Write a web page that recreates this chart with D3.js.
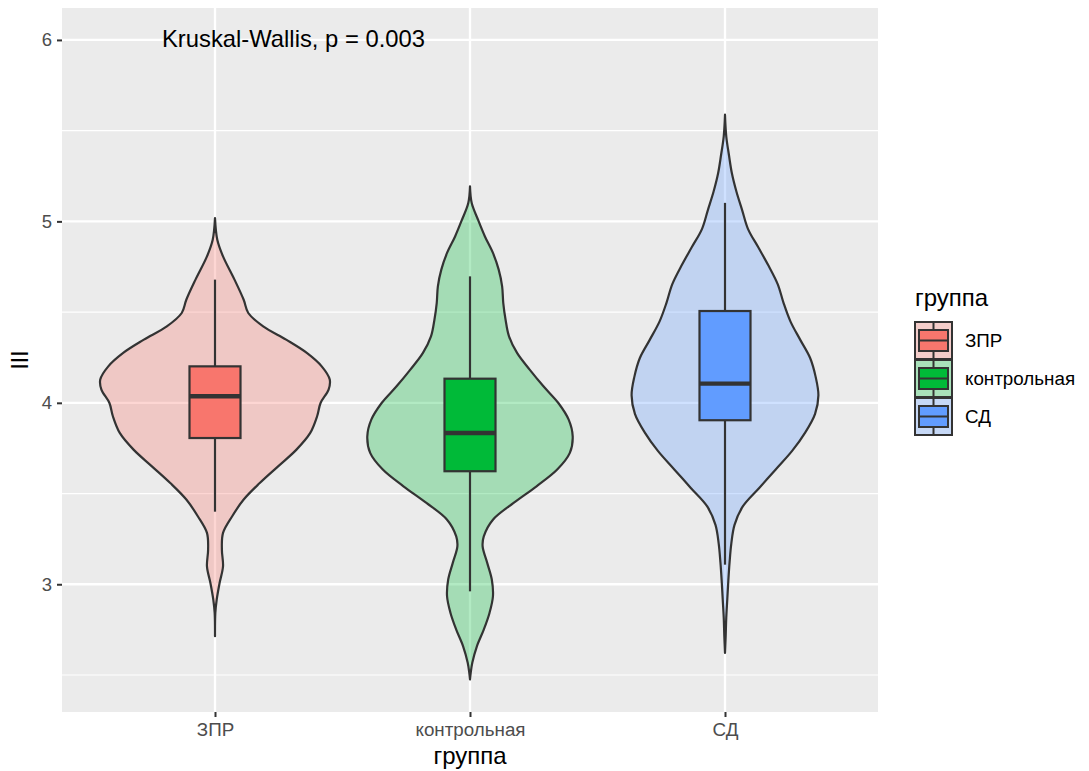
<!DOCTYPE html>
<html>
<head>
<meta charset="utf-8">
<script src="https://cdn.jsdelivr.net/npm/d3@7"></script>
<style>
  body { margin: 0; background: #fff; }
  svg { display: block; font-family: "Liberation Sans", Arial, sans-serif; }
</style>
</head>
<body>
<svg id="chart" width="1089" height="771"></svg>
<script>
// groups and colours
const groups = ["ЗПР", "контрольная", "СД"];
const groupColors = ["#F8766D", "#00BA38", "#619CFF"];

// violin outlines: value, relative density
const zprY = [5.018, 4.899, 4.807, 4.679, 4.568, 4.495, 4.421, 4.348, 4.275, 4.201, 4.128, 4.073, 3.999, 3.926, 3.834, 3.742, 3.650, 3.558, 3.467, 3.375, 3.283, 3.191, 3.099, 3.007, 2.916, 2.842, 2.714];
const zprDensity = [0, 0.02, 0.07, 0.17, 0.25, 0.29, 0.42, 0.62, 0.80, 0.93, 1.00, 0.99, 0.92, 0.89, 0.83, 0.71, 0.55, 0.39, 0.25, 0.15, 0.07, 0.06, 0.07, 0.04, 0.015, 0.003, 0];

const controlY = [5.193, 5.101, 5.009, 4.917, 4.826, 4.734, 4.642, 4.550, 4.458, 4.366, 4.275, 4.183, 4.091, 3.999, 3.907, 3.815, 3.724, 3.632, 3.540, 3.448, 3.356, 3.264, 3.209, 3.118, 3.026, 2.934, 2.842, 2.750, 2.658, 2.567, 2.511, 2.475];
const controlDensity = [0, 0.015, 0.07, 0.13, 0.20, 0.25, 0.28, 0.29, 0.31, 0.34, 0.41, 0.52, 0.64, 0.77, 0.86, 0.895, 0.87, 0.76, 0.58, 0.38, 0.20, 0.12, 0.11, 0.15, 0.19, 0.20, 0.17, 0.12, 0.06, 0.02, 0.006, 0];

const sdY = [5.588, 5.469, 5.367, 5.265, 5.163, 5.061, 4.959, 4.857, 4.755, 4.653, 4.551, 4.449, 4.347, 4.247, 4.143, 4.041, 3.939, 3.837, 3.735, 3.633, 3.531, 3.429, 3.327, 3.224, 3.122, 3.020, 2.918, 2.816, 2.714, 2.622];
const sdDensity = [0, 0.011, 0.034, 0.06, 0.10, 0.15, 0.20, 0.29, 0.38, 0.46, 0.51, 0.57, 0.656, 0.742, 0.79, 0.814, 0.785, 0.70, 0.585, 0.442, 0.298, 0.155, 0.083, 0.055, 0.04, 0.029, 0.02, 0.011, 0.006, 0];

// boxplot stats per group
const whiskerLow = [3.40, 2.961, 3.108];
const q1 = [3.806, 3.623, 3.904];
const median = [4.036, 3.834, 4.106];
const q3 = [4.201, 4.133, 4.506];
const whiskerHigh = [4.679, 4.697, 5.102];

const yTicks = [3, 4, 5, 6];
const yMinor = [2.5, 3.5, 4.5, 5.5];
const annotation = "Kruskal-Wallis, p = 0.003";
const xTitle = "группа";
const yTitle = "III";

const violinY = [zprY, controlY, sdY];
const violinDensity = [zprDensity, controlDensity, sdDensity];

const panel = { left: 62, right: 878, top: 8, bottom: 712 };
const svg = d3.select("#chart");

const x = d3.scalePoint().domain(groups).range([panel.left, panel.right]).padding(0.6);
const y = d3.scaleLinear().domain([2.296, 6.176]).range([panel.bottom, panel.top]);
const w = d3.scaleLinear().domain([0, 1]).range([0, x.step() * 0.45]);
const boxHalf = x.step() * 0.1;

// panel background and grid
svg.append("rect")
    .attr("x", panel.left).attr("y", panel.top)
    .attr("width", panel.right - panel.left).attr("height", panel.bottom - panel.top)
    .attr("fill", "#EBEBEB");

svg.selectAll(".minor").data(yMinor).enter().append("line")
    .attr("x1", panel.left).attr("x2", panel.right)
    .attr("y1", d => y(d)).attr("y2", d => y(d))
    .attr("stroke", "#fff").attr("stroke-width", 1.2);

svg.selectAll(".majorY").data(yTicks).enter().append("line")
    .attr("x1", panel.left).attr("x2", panel.right)
    .attr("y1", d => y(d)).attr("y2", d => y(d))
    .attr("stroke", "#fff").attr("stroke-width", 2.3);

svg.selectAll(".majorX").data(groups).enter().append("line")
    .attr("x1", d => x(d)).attr("x2", d => x(d))
    .attr("y1", panel.top).attr("y2", panel.bottom)
    .attr("stroke", "#fff").attr("stroke-width", 2.3);

// violins
groups.forEach((g, i) => {
    const pts = violinY[i].map((v, j) => ({ v: v, d: violinDensity[i][j] }));
    const area = d3.area()
        .y(d => y(d.v))
        .x0(d => x(g) - w(d.d))
        .x1(d => x(g) + w(d.d))
        .curve(d3.curveCatmullRom);
    svg.append("path")
        .attr("d", area(pts))
        .attr("fill", groupColors[i]).attr("fill-opacity", 0.3)
        .attr("stroke", "#333").attr("stroke-width", 2.2)
        .attr("stroke-linejoin", "round");
});

// boxplots
groups.forEach((g, i) => {
    const cx = x(g);
    const grp = svg.append("g");
    grp.append("line")
        .attr("x1", cx).attr("x2", cx)
        .attr("y1", y(whiskerHigh[i])).attr("y2", y(q3[i]))
        .attr("stroke", "#333").attr("stroke-width", 2.2);
    grp.append("line")
        .attr("x1", cx).attr("x2", cx)
        .attr("y1", y(q1[i])).attr("y2", y(whiskerLow[i]))
        .attr("stroke", "#333").attr("stroke-width", 2.2);
    grp.append("rect")
        .attr("x", cx - boxHalf).attr("width", boxHalf * 2)
        .attr("y", y(q3[i])).attr("height", y(q1[i]) - y(q3[i]))
        .attr("fill", groupColors[i])
        .attr("stroke", "#333").attr("stroke-width", 2.2);
    grp.append("line")
        .attr("x1", cx - boxHalf).attr("x2", cx + boxHalf)
        .attr("y1", y(median[i])).attr("y2", y(median[i]))
        .attr("stroke", "#333").attr("stroke-width", 4.4);
});

// annotation
svg.append("text")
    .attr("x", 162).attr("y", y(6) + 7)
    .attr("font-size", 23.8).attr("fill", "#000")
    .text(annotation);

// axes
const yAxis = svg.append("g")
    .attr("transform", `translate(${panel.left},0)`)
    .call(d3.axisLeft(y).tickValues(yTicks).tickSize(5).tickPadding(5).tickFormat(d3.format("d")));
yAxis.select(".domain").remove();
yAxis.selectAll(".tick line").attr("stroke", "#333").attr("stroke-width", 2);
yAxis.selectAll(".tick text").attr("fill", "#4D4D4D").attr("font-size", 18.5)
    .attr("font-family", "Liberation Sans, Arial, sans-serif");

const xAxis = svg.append("g")
    .attr("transform", `translate(0,${panel.bottom})`)
    .call(d3.axisBottom(x).tickSize(5).tickPadding(6));
xAxis.select(".domain").remove();
xAxis.selectAll(".tick line").attr("stroke", "#333").attr("stroke-width", 2);
xAxis.selectAll(".tick text").attr("fill", "#4D4D4D").attr("font-size", 18.8)
    .attr("font-family", "Liberation Sans, Arial, sans-serif");

svg.append("text")
    .attr("x", (panel.left + panel.right) / 2).attr("y", 764)
    .attr("text-anchor", "middle").attr("font-size", 24)
    .text(xTitle);

svg.append("text")
    .attr("transform", `translate(28,${(panel.top + panel.bottom) / 2}) rotate(-90)`)
    .attr("text-anchor", "middle").attr("font-size", 23)
    .text(yTitle);

// legend
const legend = svg.append("g").attr("transform", "translate(915,0)");
legend.append("text").attr("x", 0).attr("y", 306).attr("font-size", 24).text(xTitle);
const keySize = 37;
groups.forEach((g, i) => {
    const top = 322 + i * (keySize + 1);
    const k = legend.append("g").attr("transform", `translate(0,${top})`);
    k.append("rect").attr("width", keySize).attr("height", keySize).attr("fill", "#F2F2F2");
    k.append("rect").attr("width", keySize).attr("height", keySize)
        .attr("fill", groupColors[i]).attr("fill-opacity", 0.3)
        .attr("stroke", "#333").attr("stroke-width", 2);
    k.append("line").attr("x1", keySize / 2).attr("x2", keySize / 2).attr("y1", 0).attr("y2", keySize)
        .attr("stroke", "#333").attr("stroke-width", 2);
    k.append("rect").attr("x", 4).attr("y", 8).attr("width", keySize - 8).attr("height", keySize - 16)
        .attr("fill", groupColors[i]).attr("stroke", "#333").attr("stroke-width", 2);
    k.append("line").attr("x1", 4).attr("x2", keySize - 4).attr("y1", keySize / 2).attr("y2", keySize / 2)
        .attr("stroke", "#333").attr("stroke-width", 2);
    legend.append("text")
        .attr("x", keySize + 13).attr("y", top + keySize / 2)
        .attr("dy", "0.35em").attr("font-size", 18.8).attr("fill", "#000")
        .text(g);
});
</script>
</body>
</html>
